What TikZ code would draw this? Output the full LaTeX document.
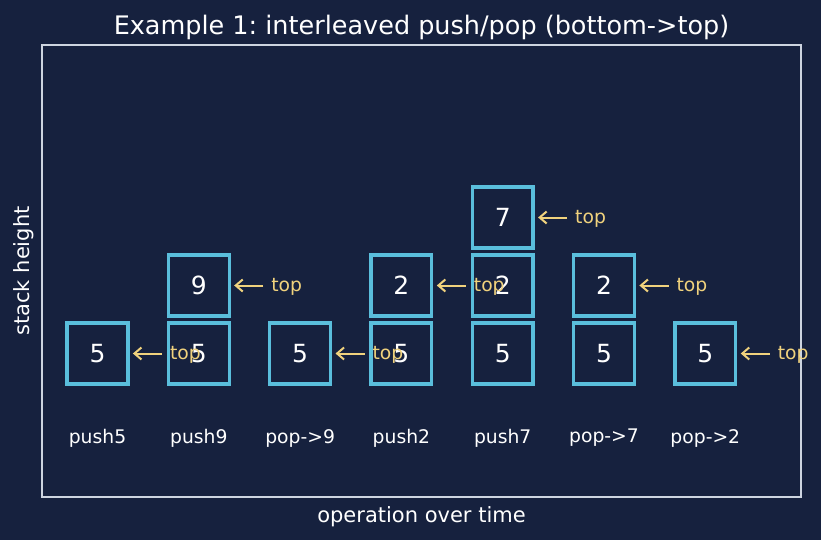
\documentclass[tikz,border=0pt]{standalone}
\usepackage{fontspec}
\setmainfont{DejaVu Sans}
\frenchspacing
\usetikzlibrary{arrows.meta}
\definecolor{bgc}{RGB}{22,33,62}
\definecolor{boxc}{RGB}{90,190,220}
\definecolor{goldc}{RGB}{240,210,125}
\definecolor{framec}{RGB}{205,212,224}
\tikzset{
  cell/.style={draw=boxc, line width=3.3pt, minimum width=60.8pt, minimum height=61.2pt,
    inner sep=0pt, outer sep=0pt, text=white, font=\fontsize{25}{25}\selectfont},
  toplab/.style={anchor=west, text=goldc, inner xsep=8pt, inner ysep=0pt, outer sep=0pt,
    font=\fontsize{18.75}{18.75}\selectfont},
  arr/.style={draw=goldc, line width=2pt, -{Straight Barb[length=7pt,width=12pt,line width=2pt]}},
  oplab/.style={text=white, font=\fontsize{18.75}{18.75}\selectfont},
  axlab/.style={text=white, font=\fontsize{21}{21}\selectfont}
}
\begin{document}
\begin{tikzpicture}[x=1pt,y=-1pt]
\fill[bgc] (0,0) rectangle (821,540);
\useasboundingbox (0,0) rectangle (821,540);
\node[draw=framec, line width=1.7pt, minimum width=759pt, minimum height=452pt, inner sep=0pt] (frame) at (421.5,271) {};
\node[text=white, font=\fontsize{25.5}{25.5}\selectfont] (title) at (421.5,27) {Example 1: interleaved push/pop (bottom->top)};
\node[axlab] (xl) at (421.5,517) {operation over time};
\node[axlab, rotate=90] (yl) at (24,271) {stack height};
% boxes
\node[cell] (a0) at (97.5,353.5) {5};
\node[cell] (b0) at (198.8,353.5) {5};
\node[cell] (b1) at (198.8,285.5) {9};
\node[cell] (c0) at (300.1,353.5) {5};
\node[cell] (d0) at (401.4,353.5) {5};
\node[cell] (d1) at (401.4,285.5) {2};
\node[cell] (e0) at (502.7,353.5) {5};
\node[cell] (e1) at (502.7,285.5) {2};
\node[cell] (e2) at (502.7,217.5) {7};
\node[cell] (f0) at (604.0,353.5) {5};
\node[cell] (f1) at (604.0,285.5) {2};
\node[cell] (g0) at (705.3,353.5) {5};
% top labels
\node[toplab] (ta) at (162,355) {top};
\node[toplab] (tb) at (263.3,287) {top};
\node[toplab] (tc) at (364.6,355) {top};
\node[toplab] (td) at (465.9,287) {top};
\node[toplab] (te) at (567.2,219) {top};
\node[toplab] (tf) at (668.5,287) {top};
\node[toplab] (tg) at (769.8,355) {top};
\draw[arr] (ta.west|-a0.east) -- ([xshift=5pt]a0.east);
\draw[arr] (tb.west|-b1.east) -- ([xshift=5pt]b1.east);
\draw[arr] (tc.west|-c0.east) -- ([xshift=5pt]c0.east);
\draw[arr] (td.west|-d1.east) -- ([xshift=5pt]d1.east);
\draw[arr] (te.west|-e2.east) -- ([xshift=5pt]e2.east);
\draw[arr] (tf.west|-f1.east) -- ([xshift=5pt]f1.east);
\draw[arr] (tg.west|-g0.east) -- ([xshift=5pt]g0.east);
% operation labels
\node[oplab] (o0) at (97.5,438) {push5};
\node[oplab] (o1) at (198.8,438) {push9};
\node[oplab] (o2) at (300.1,438) {pop->9};
\node[oplab] (o3) at (401.4,438) {push2};
\node[oplab] (o4) at (502.7,438) {push7};
\node[oplab] (o5) at (604.0,438) {pop->7};
\node[oplab] (o6) at (705.3,438) {pop->2};
\end{tikzpicture}
\end{document}
